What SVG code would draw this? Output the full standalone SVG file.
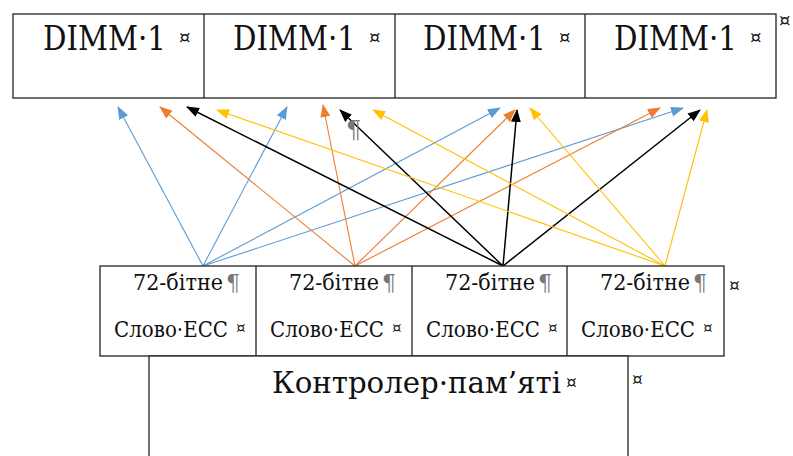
<svg xmlns="http://www.w3.org/2000/svg" width="793" height="456" viewBox="0 0 793 456">
<style>
  .box{fill:#fff;stroke:#222;stroke-width:1.3}
  .div{stroke:#222;stroke-width:1.3}
  text{fill:#111;font-family:"DejaVu Serif",serif}
  .big{font-size:33px}
  .mid{font-size:22px}
  .ctl{font-size:30px}
  .pil{fill:#777}
  .c{fill:none;stroke-width:1.1}
  .blue{stroke:#5B9BD5;marker-end:url(#ab)}
  .orange{stroke:#ED7D31;marker-end:url(#ao)}
  .black{stroke:#000;stroke-width:1.5;marker-end:url(#ak)}
  .yellow{stroke:#FFC000;marker-end:url(#ay)}
</style>
<defs>
  <marker id="ab" markerUnits="userSpaceOnUse" markerWidth="14" markerHeight="12" refX="12" refY="5" orient="auto" viewBox="0 0 14 10"><path d="M0,0 L13,5 L0,10 z" fill="#5B9BD5"/></marker>
  <marker id="ao" markerUnits="userSpaceOnUse" markerWidth="14" markerHeight="12" refX="12" refY="5" orient="auto" viewBox="0 0 14 10"><path d="M0,0 L13,5 L0,10 z" fill="#ED7D31"/></marker>
  <marker id="ak" markerUnits="userSpaceOnUse" markerWidth="14" markerHeight="12" refX="12" refY="5" orient="auto" viewBox="0 0 14 10"><path d="M0,0 L13,5 L0,10 z" fill="#000"/></marker>
  <marker id="ay" markerUnits="userSpaceOnUse" markerWidth="14" markerHeight="12" refX="12" refY="5" orient="auto" viewBox="0 0 14 10"><path d="M0,0 L13,5 L0,10 z" fill="#FFC000"/></marker>
</defs>
<rect width="793" height="456" fill="#fff"/>

<!-- Top table: DIMM modules -->
<g id="dimm-table">
  <rect class="box" x="13" y="14" width="763" height="84"/>
  <text x="779" y="27" font-size="18">¤</text>
</g>
<g id="dimm1">
  <text class="big" x="43" y="50" textLength="123" lengthAdjust="spacingAndGlyphs">DIMM·1</text>
  <text x="179" y="44" font-size="18">¤</text>
</g>
<g id="dimm2">
  <line class="div" x1="204" y1="14" x2="204" y2="98"/>
  <text class="big" x="233" y="50" textLength="123" lengthAdjust="spacingAndGlyphs">DIMM·1</text>
  <text x="369" y="44" font-size="18">¤</text>
</g>
<g id="dimm3">
  <line class="div" x1="395" y1="14" x2="395" y2="98"/>
  <text class="big" x="423" y="50" textLength="123" lengthAdjust="spacingAndGlyphs">DIMM·1</text>
  <text x="559" y="44" font-size="18">¤</text>
</g>
<g id="dimm4">
  <line class="div" x1="585" y1="14" x2="585" y2="98"/>
  <text class="big" x="614" y="50" textLength="123" lengthAdjust="spacingAndGlyphs">DIMM·1</text>
  <text x="750" y="44" font-size="18">¤</text>
</g>

<!-- Connectors -->
<g id="connectors">
  <line class="c blue" x1="203" y1="266" x2="118" y2="107"/>
  <line class="c blue" x1="203" y1="266" x2="287" y2="107"/>
  <line class="c blue" x1="203" y1="266" x2="500" y2="108"/>
  <line class="c blue" x1="203" y1="266" x2="683" y2="108"/>
  <line class="c orange" x1="355" y1="266" x2="160" y2="107"/>
  <line class="c orange" x1="355" y1="266" x2="323" y2="105"/>
  <line class="c orange" x1="355" y1="266" x2="515" y2="110"/>
  <line class="c orange" x1="355" y1="266" x2="660" y2="108"/>
  <line class="c black" x1="503" y1="266" x2="187" y2="107"/>
  <line class="c black" x1="503" y1="266" x2="340" y2="110"/>
  <line class="c black" x1="503" y1="266" x2="517" y2="110"/>
  <line class="c black" x1="503" y1="266" x2="700" y2="110"/>
  <line class="c yellow" x1="665" y1="266" x2="217" y2="110"/>
  <line class="c yellow" x1="665" y1="266" x2="373" y2="110"/>
  <line class="c yellow" x1="665" y1="266" x2="530" y2="108"/>
  <line class="c yellow" x1="665" y1="266" x2="707" y2="110"/>
</g>
<text class="pil" x="346" y="138" font-size="24">¶</text>

<!-- Bottom table: ECC words -->
<g id="ecc-table">
  <rect class="box" x="100" y="266" width="624" height="90"/>
  <text x="729" y="291" font-size="17">¤</text>
</g>
<g id="ecc1">
  <text class="mid" x="133" y="290" textLength="90" lengthAdjust="spacingAndGlyphs">72-бітне</text>
  <text class="mid pil" x="226" y="290">¶</text>
  <text class="mid" x="114" y="337" textLength="114" lengthAdjust="spacingAndGlyphs">Слово·ECC</text>
  <text x="236" y="333" font-size="15">¤</text>
</g>
<g id="ecc2">
  <line class="div" x1="256" y1="266" x2="256" y2="356"/>
  <text class="mid" x="289" y="290" textLength="90" lengthAdjust="spacingAndGlyphs">72-бітне</text>
  <text class="mid pil" x="382" y="290">¶</text>
  <text class="mid" x="270" y="337" textLength="114" lengthAdjust="spacingAndGlyphs">Слово·ECC</text>
  <text x="392" y="333" font-size="15">¤</text>
</g>
<g id="ecc3">
  <line class="div" x1="412" y1="266" x2="412" y2="356"/>
  <text class="mid" x="445" y="290" textLength="90" lengthAdjust="spacingAndGlyphs">72-бітне</text>
  <text class="mid pil" x="538" y="290">¶</text>
  <text class="mid" x="426" y="337" textLength="114" lengthAdjust="spacingAndGlyphs">Слово·ECC</text>
  <text x="548" y="333" font-size="15">¤</text>
</g>
<g id="ecc4">
  <line class="div" x1="567" y1="266" x2="567" y2="356"/>
  <text class="mid" x="600" y="290" textLength="90" lengthAdjust="spacingAndGlyphs">72-бітне</text>
  <text class="mid pil" x="693" y="290">¶</text>
  <text class="mid" x="581" y="337" textLength="114" lengthAdjust="spacingAndGlyphs">Слово·ECC</text>
  <text x="703" y="333" font-size="15">¤</text>
</g>

<!-- Memory controller -->
<g id="controller">
  <rect class="box" x="149" y="356" width="479" height="110"/>
  <text class="ctl" x="272" y="393" textLength="289" lengthAdjust="spacingAndGlyphs">Контролер·пам’яті</text>
  <text x="566" y="388" font-size="17">¤</text>
  <text x="632" y="385" font-size="17">¤</text>
</g>
</svg>
